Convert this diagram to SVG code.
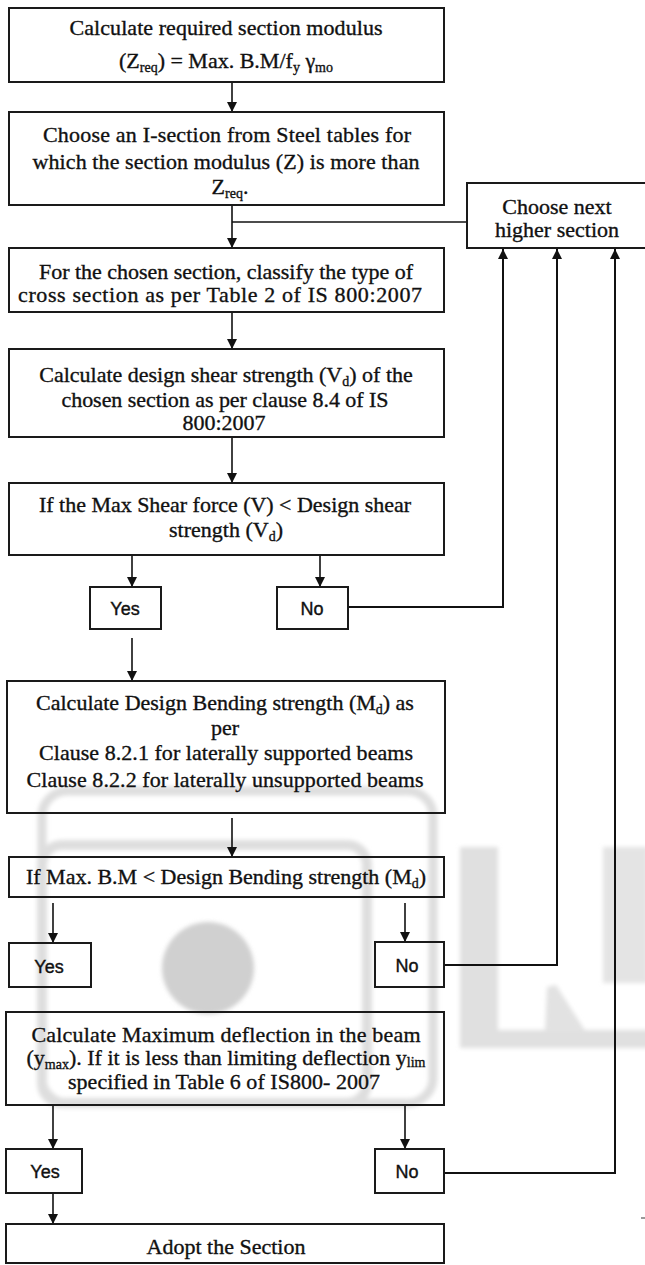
<svg xmlns="http://www.w3.org/2000/svg" width="645" height="1265" viewBox="0 0 645 1265">
<style>
.box{fill:none;stroke:#1a1a1a;stroke-width:2}
.t{font-family:"Liberation Serif","Times New Roman",serif;font-size:22px;fill:#111;stroke:#111;stroke-width:0.35;text-anchor:middle}
.s{font-size:14px}
.yn{font-family:"Liberation Sans",Arial,sans-serif;font-size:18px;fill:#111;stroke:#111;stroke-width:0.4;text-anchor:middle}
.ar{fill:none;stroke:#111;stroke-width:1.6}
.fb{fill:none;stroke:#111;stroke-width:2}
.wm{fill:none;stroke:#dedede}
</style>
<defs>
<marker id="ah" markerUnits="userSpaceOnUse" markerWidth="10" markerHeight="10" refX="10" refY="5" orient="auto">
<path d="M0,0 L10,5 L0,10 z" fill="#111" stroke="none"/>
</marker>
<filter id="bl" x="-10%" y="-10%" width="120%" height="120%"><feGaussianBlur stdDeviation="2"/></filter>
</defs>
<rect width="645" height="1265" fill="#fff"/>
<g id="watermark" filter="url(#bl)">
<rect class="wm" x="42" y="791" width="391" height="312" rx="25" stroke-width="9"/>
<rect class="wm" x="42" y="845" width="325" height="258" rx="20" stroke-width="10"/>
<circle cx="208" cy="968" r="46" fill="#d0d0d0"/>
<rect x="460" y="847" width="38" height="201" fill="#e0e0e0"/>
<rect x="460" y="1030" width="190" height="18" fill="#e0e0e0"/>
<polygon points="545,1032 547,987 556,985 586,1032" fill="#e2e2e2"/>
<rect x="603" y="847" width="45" height="136" fill="#e4e4e4"/>
</g>
<line x1="641" y1="1218" x2="645" y2="1218" stroke="#777" stroke-width="1.5"/>
<g id="connectors">
<line class="ar" x1="232" y1="82" x2="232" y2="112" marker-end="url(#ah)"/>
<line class="ar" x1="232" y1="205" x2="232" y2="248" marker-end="url(#ah)"/>
<line class="ar" x1="232" y1="222" x2="467" y2="222"/>
<line class="ar" x1="232" y1="312" x2="232" y2="349" marker-end="url(#ah)"/>
<line class="ar" x1="232" y1="437" x2="232" y2="483" marker-end="url(#ah)"/>
<line class="ar" x1="132" y1="555" x2="132" y2="587" marker-end="url(#ah)"/>
<line class="ar" x1="320" y1="555" x2="320" y2="587" marker-end="url(#ah)"/>
<polyline class="fb" points="348,607 503,607 503,249" marker-end="url(#ah)"/>
<line class="ar" x1="132" y1="638" x2="132" y2="681" marker-end="url(#ah)"/>
<line class="ar" x1="232" y1="818" x2="232" y2="857" marker-end="url(#ah)"/>
<line class="ar" x1="53" y1="903" x2="53" y2="943" marker-end="url(#ah)"/>
<line class="ar" x1="405" y1="903" x2="405" y2="942" marker-end="url(#ah)"/>
<polyline class="fb" points="444,965 557,965 557,249" marker-end="url(#ah)"/>
<line class="ar" x1="53" y1="1105" x2="53" y2="1149" marker-end="url(#ah)"/>
<line class="ar" x1="405" y1="1105" x2="405" y2="1149" marker-end="url(#ah)"/>
<polyline class="fb" points="444,1173 615,1173 615,249" marker-end="url(#ah)"/>
<line class="ar" x1="53" y1="1193" x2="53" y2="1224" marker-end="url(#ah)"/>
</g>
<g id="n1">
<rect class="box" x="9" y="8" width="435" height="74"/>
<text class="t" x="226" y="35" textLength="313" lengthAdjust="spacing">Calculate required section modulus</text>
<text class="t" x="226" y="68">(Z<tspan class="s" dy="4">req</tspan><tspan dy="-4">) = Max. B.M/f</tspan><tspan class="s" dy="4">y</tspan><tspan dy="-4"> γ</tspan><tspan class="s" dy="4">mo</tspan></text>
</g>
<g id="n2">
<rect class="box" x="9" y="112" width="435" height="93"/>
<text class="t" x="227" y="142" textLength="368" lengthAdjust="spacing">Choose an I-section from Steel tables for</text>
<text class="t" x="226" y="169" textLength="387" lengthAdjust="spacing">which the section modulus (Z) is  more than</text>
<text class="t" x="230" y="194">Z<tspan class="s" dy="4">req</tspan><tspan dy="-4">.</tspan></text>
</g>
<g id="n3">
<rect class="box" x="467" y="183" width="180" height="65"/>
<text class="t" x="557" y="214">Choose next</text>
<text class="t" x="557" y="237">higher section</text>
</g>
<g id="n4">
<rect class="box" x="9" y="248" width="435" height="64"/>
<text class="t" x="226" y="279" textLength="374" lengthAdjust="spacing">For the chosen section, classify the type of</text>
<text class="t" x="220" y="302" textLength="404" lengthAdjust="spacing">cross section as per Table 2 of   IS 800:2007</text>
</g>
<g id="n5">
<rect class="box" x="9" y="349" width="435" height="88"/>
<text class="t" x="226" y="382">Calculate design shear strength (V<tspan class="s" dy="4">d</tspan><tspan dy="-4">) of the</tspan></text>
<text class="t" x="225" y="407" textLength="327" lengthAdjust="spacing">chosen section as per clause 8.4 of IS</text>
<text class="t" x="224" y="430">800:2007</text>
</g>
<g id="n6">
<rect class="box" x="9" y="483" width="435" height="72"/>
<text class="t" x="225" y="512" textLength="372" lengthAdjust="spacing">If the Max Shear force (V) &lt; Design  shear</text>
<text class="t" x="226" y="537">strength (V<tspan class="s" dy="4">d</tspan><tspan dy="-4">)</tspan></text>
</g>
<g id="n7">
<rect class="box" x="90" y="587" width="71" height="42"/>
<text class="yn" x="125" y="615">Yes</text>
</g>
<g id="n8">
<rect class="box" x="277" y="587" width="71" height="42"/>
<text class="yn" x="312" y="615">No</text>
</g>
<g id="n9">
<rect class="box" x="7" y="681" width="438" height="132"/>
<text class="t" x="225" y="710">Calculate Design Bending strength (M<tspan class="s" dy="4">d</tspan><tspan dy="-4">) as</tspan></text>
<text class="t" x="225" y="735">per</text>
<text class="t" x="226" y="760" textLength="374" lengthAdjust="spacing">Clause 8.2.1  for laterally supported beams</text>
<text class="t" x="225" y="787" textLength="397" lengthAdjust="spacing">Clause 8.2.2 for laterally unsupported beams</text>
</g>
<g id="n10">
<rect class="box" x="9" y="857" width="435" height="40"/>
<text class="t" x="226" y="884">If Max. B.M &lt; Design  Bending strength (M<tspan class="s" dy="4">d</tspan><tspan dy="-4">)</tspan></text>
</g>
<g id="n11">
<rect class="box" x="9" y="943" width="82" height="44"/>
<text class="yn" x="49" y="973">Yes</text>
</g>
<g id="n12">
<rect class="box" x="375" y="942" width="69" height="45"/>
<text class="yn" x="407" y="972">No</text>
</g>
<g id="n13">
<rect class="box" x="6" y="1012" width="438" height="93"/>
<text class="t" x="226" y="1042" textLength="389" lengthAdjust="spacing">Calculate Maximum deflection in the beam</text>
<text class="t" x="226" y="1065">(y<tspan class="s" dy="4">max</tspan><tspan dy="-4">). If it is less  than limiting deflection y</tspan><tspan class="s" dy="2">lim</tspan></text>
<text class="t" x="224" y="1089" textLength="312" lengthAdjust="spacing">specified in  Table 6 of IS800- 2007</text>
</g>
<g id="n14">
<rect class="box" x="6" y="1149" width="76" height="44"/>
<text class="yn" x="45" y="1178">Yes</text>
</g>
<g id="n15">
<rect class="box" x="375" y="1149" width="69" height="44"/>
<text class="yn" x="407" y="1178">No</text>
</g>
<g id="n16">
<rect class="box" x="6" y="1224" width="438" height="39"/>
<text class="t" x="226" y="1254">Adopt the Section</text>
</g>
</svg>
